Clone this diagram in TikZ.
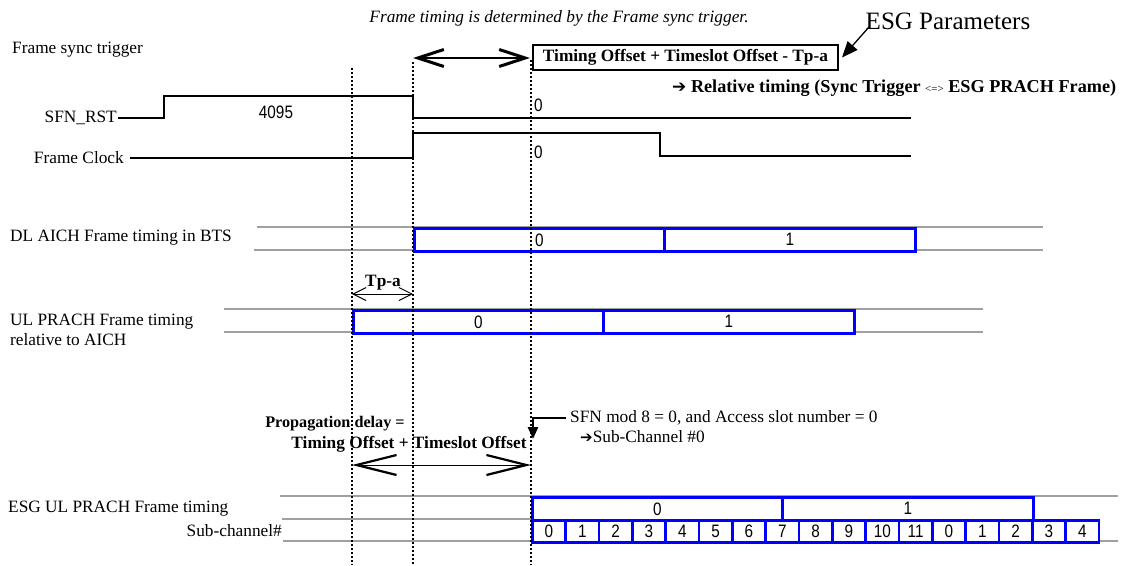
\documentclass[tikz,border=0pt]{standalone}
\usepackage{fontspec}
\setmainfont{Liberation Serif}
\newfontfamily\sanf{Liberation Sans}[FakeStretch=0.85]
\newfontfamily\djv{DejaVu Sans}
\usetikzlibrary{arrows.meta}
\definecolor{frameblue}{RGB}{0,0,255}
\definecolor{rowgray}{RGB}{160,160,160}
\begin{document}
\begin{tikzpicture}[x=1pt,y=-1pt,
  txt/.style={inner sep=0pt, font=\fontsize{17.3}{20}\selectfont},
  btxt/.style={inner sep=0pt, font=\fontsize{17.3}{20}\selectfont\bfseries},
  num/.style={inner sep=0pt, font=\sanf\fontsize{18}{20}\selectfont},
  sig/.style={line width=2.3pt, line join=miter},
  rowline/.style={draw=rowgray, line width=2.6pt},
  frm/.style={draw=frameblue, line width=2.6pt, fill=white, inner sep=0pt},
  vdot/.style={line width=2.4pt, dash pattern=on 2pt off 2pt},
  bigbarb/.style={line width=2pt, {Straight Barb[length=26pt,width=17pt,line width=3pt]}-{Straight Barb[length=26pt,width=17pt,line width=3pt]}},
  smallbarb/.style={line width=0.9pt, {Straight Barb[length=13pt,width=13pt,line width=1pt]}-{Straight Barb[length=13pt,width=13pt,line width=1pt]}},
  propbarb/.style={line width=1pt, {Straight Barb[length=40pt,width=20pt,line width=2.2pt]}-{Straight Barb[length=40pt,width=20pt,line width=2.2pt]}},
  pointer/.style={line width=1.3pt, -{Triangle[length=16pt,width=13pt]}},
  bentarrow/.style={line width=2.6pt, -{Triangle[length=12pt,width=10pt]}}
]
\useasboundingbox[fill=white] (0,0) rectangle (1132,565);

% ---------- gray row lines ----------
\coordinate (dlTl) at (257,227); \coordinate (dlTr) at (1043,227);
\coordinate (dlBl) at (254,250); \coordinate (dlBr) at (1043,250);
\coordinate (ulTl) at (224,309); \coordinate (ulTr) at (983,309);
\coordinate (ulBl) at (224,332); \coordinate (ulBr) at (983,332);
\coordinate (esTl) at (280,496); \coordinate (esTr) at (1118,496);
\coordinate (esMl) at (282,519); \coordinate (esMr) at (531,519);
\coordinate (esBl) at (283,541); \coordinate (esBr) at (1118,541);
\draw[rowline] (dlTl) -- (dlTr);
\draw[rowline] (dlBl) -- (dlBr);
\draw[rowline] (ulTl) -- (ulTr);
\draw[rowline] (ulBl) -- (ulBr);
\draw[rowline] (esTl) -- (esTr);
\draw[rowline] (esMl) -- (esMr);
\draw[rowline] (esBl) -- (esBr);

% ---------- frame boxes ----------
\node[frm, num, minimum width=250pt, minimum height=23pt, anchor=north west] (dl0) at (413,227) {0};
\node[frm, num, minimum width=251pt, minimum height=23pt, anchor=north west] (dl1) at (663,227) {1};
\node[frm, num, minimum width=250pt, minimum height=23pt, anchor=north west] (ul0) at (352,309) {0};
\node[frm, num, minimum width=251pt, minimum height=23pt, anchor=north west] (ul1) at (602,309) {1};
\node[frm, num, minimum width=250pt, minimum height=23pt, anchor=north west] (es0) at (531,496) {0};
\node[frm, num, minimum width=251pt, minimum height=23pt, anchor=north west] (es1) at (781,496) {1};
\foreach \i/\t in {0/0,1/1,2/2,3/3,4/4,5/5,6/6,7/7,8/8,9/9,10/10,11/11,12/0,13/1,14/2,15/3,16/4}
  \node[frm, num, minimum width=33.33pt, minimum height=22pt, anchor=north west] (sc\i) at ({531+33.333*\i},519) {\t};

% ---------- signals ----------
\coordinate (s1) at (118,118); \coordinate (s2) at (164,118); \coordinate (s3) at (164,96);
\coordinate (s4) at (413,96); \coordinate (s5) at (413,118); \coordinate (s6) at (911,118);
\draw[sig] (s1) -- (s2) -- (s3) -- (s4) -- (s5) -- (s6);
\coordinate (c1) at (130,158); \coordinate (c2) at (413,158); \coordinate (c3) at (413,133);
\coordinate (c4) at (660,133); \coordinate (c5) at (660,156); \coordinate (c6) at (911,156);
\draw[sig] (c1) -- (c2) -- (c3) -- (c4) -- (c5) -- (c6);

% ---------- dotted verticals ----------
\coordinate (vA1) at (352,68);  \coordinate (vA2) at (352,565);
\coordinate (vB1) at (413,62);  \coordinate (vB2) at (413,565);
\coordinate (vC1) at (531,60);  \coordinate (vC2) at (531,565);
\draw[vdot] (vA1) -- (vA2);
\draw[vdot] (vB1) -- (vB2);
\draw[vdot] (vC1) -- (vC2);

% ---------- texts ----------
\node[txt, font=\fontsize{17.3}{20}\selectfont\itshape] (title) at (559,18) {Frame timing is determined by the Frame sync trigger.};
\node[txt, anchor=west] (fst) at (12,50) {Frame sync trigger};
\node[txt, anchor=base east] (sfnl) at (117,122) {SFN\_RST};
\node[txt, anchor=east] (fcl) at (124,158) {Frame Clock};
\node[num] (n4095) at (276,112) {4095};
\node[num, anchor=west] (z1) at (534,105) {0};
\node[num, anchor=west] (z2) at (534,152) {0};
\node[inner sep=0pt, font=\fontsize{25}{28}\selectfont] (esgp) at (948,21) {ESG Parameters};
\node[draw, line width=2pt, btxt, minimum width=305pt, minimum height=25pt] (tobox) at (685.5,57.5) {Timing Offset + Timeslot Offset - Tp-a};
\node[btxt, anchor=west, font=\fontsize{18.2}{20}\selectfont\bfseries] (rel) at (672,88) {{\djv\mdseries\fontsize{17}{18}\selectfont ➔} Relative timing (Sync Trigger {\mdseries\fontsize{11}{12}\selectfont <=>} ESG PRACH Frame)};
\node[txt, anchor=west] (dll) at (10,238) {DL AICH Frame timing in BTS};
\node[txt, anchor=west, align=left, font=\fontsize{17.3}{20}\selectfont] (ull) at (10,330) {UL PRACH Frame timing\\relative to AICH};
\node[btxt] (tpa) at (383,283) {Tp-a};
\node[btxt, font=\fontsize{16.2}{20}\selectfont\bfseries] (prop1) at (335,424) {Propagation delay =};
\node[btxt] (prop2) at (409,444) {Timing Offset + Timeslot Offset};
\node[txt, anchor=west] (sfnmod) at (570,418) {SFN mod 8 = 0, and Access slot number = 0};
\node[txt, anchor=west] (subc) at (580,437) {{\djv\fontsize{15}{16}\selectfont ➔}Sub-Channel \#0};
\node[txt, anchor=west] (esgl) at (8,509) {ESG UL PRACH Frame timing};
\node[txt, anchor=east] (scl) at (282,531) {Sub-channel\#};

% ---------- arrows ----------
\coordinate (ta) at (413,58); \coordinate (tb) at (530,58);
\draw[bigbarb] (ta) -- (tb);
\coordinate (pa) at (352,294); \coordinate (pb) at (413,294);
\draw[smallbarb] (pa) -- (pb);
\coordinate (qa) at (352,465); \coordinate (qb) at (531,465);
\draw[propbarb] (qa) -- (qb);
\coordinate (esgtail) at (869,27);
\draw[pointer] (esgtail) -- ([xshift=3pt]tobox.east);
\coordinate (bent1) at (566,418); \coordinate (bent2) at (533,418); \coordinate (bent3) at (533,439);
\draw[bentarrow] (bent1) -- (bent2) -- (bent3);
\end{tikzpicture}
\end{document}
